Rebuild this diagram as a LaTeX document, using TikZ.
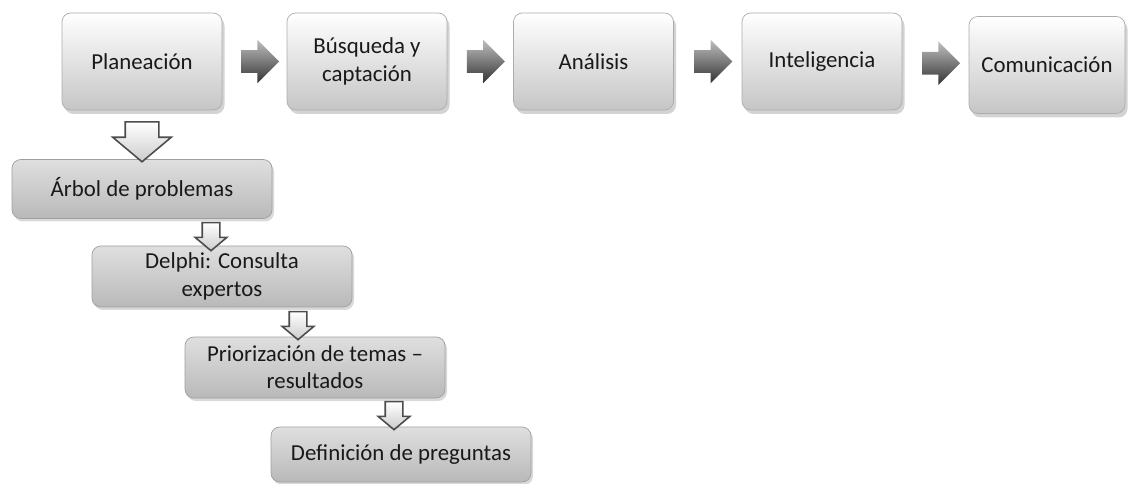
\documentclass[tikz,border=0pt]{standalone}
\usepackage{fontspec}
\setmainfont{Carlito}
\usepackage{tikz}
\usetikzlibrary{shapes.arrows,shadows,calc}

\begin{document}
\begin{tikzpicture}[
  paso/.style={rectangle, rounded corners=5pt, draw=gray!65, top color=white, bottom color=gray!45,
    minimum width=3.2cm, minimum height=1.94cm, align=center, text=black!90,
    font=\fontsize{13}{15.5}\selectfont,
    drop shadow={opacity=0.35, shadow xshift=0.05cm, shadow yshift=-0.08cm}},
  etapa/.style={rectangle, rounded corners=5pt, draw=gray!75, top color=gray!25, bottom color=gray!55,
    minimum width=5.2cm, minimum height=1.18cm, align=center, text=black!90,
    font=\fontsize{13}{15.5}\selectfont,
    drop shadow={opacity=0.3, shadow xshift=0.04cm, shadow yshift=-0.06cm}},
  avance/.style={single arrow, draw=none, top color=gray!50, bottom color=black!80,
    inner xsep=0pt, inner ysep=0.22cm, minimum height=0.76cm, single arrow head extend=0.21cm},
  baja/.style={single arrow, rotate=-90, draw=black!70, line width=0.9pt, top color=white, bottom color=gray!40,
    inner xsep=0pt, single arrow tip angle=100},
  bajagrande/.style={baja, inner ysep=0.32cm, minimum height=0.8cm, single arrow head extend=0.25cm},
  bajachica/.style={baja, inner ysep=0.16cm, minimum height=0.56cm, single arrow head extend=0.14cm}
]
\useasboundingbox (0,0) rectangle (22.58,-9.68);

\node[paso] (plan) at (2.84,-1.23) {Planeación};
\node[paso] (busq) at (7.34,-1.23) {Búsqueda y\\captación};
\node[paso] (anal) at (11.87,-1.23) {Análisis};
\node[paso] (intel) at (16.44,-1.23) {Inteligencia};
\node[paso, minimum width=3.12cm] (comu) at (20.94,-1.30) {Comunicación};

\node[avance] (f1) at ($(plan.east)!0.5!(busq.west)$) {};
\node[avance] (f2) at ($(busq.east)!0.5!(anal.west)$) {};
\node[avance] (f3) at ($(anal.east)!0.5!(intel.west)$) {};
\node[avance] (f4) at ($(intel.east)!0.5!(comu.west)$) {};

\node[etapa] (arbol) at (2.84,-3.78) {Árbol de problemas};
\node[etapa, minimum height=1.22cm] (delphi) at (4.44,-5.53) {Delphi: Consulta\\expertos};
\node[etapa, minimum height=1.22cm] (prior) at (6.3,-7.35) {Priorización de temas –\\resultados};
\node[etapa, minimum height=1.1cm] (defin) at (8.02,-9.09) {Definición de preguntas};

\node[bajagrande] (b0) at ($(plan.south)!0.5!(arbol.north)$) {};
\node[bajachica] (b1) at (4.22,-4.66) {};
\node[bajachica] (b2) at (5.96,-6.44) {};
\node[bajachica] (b3) at (7.88,-8.24) {};
\end{tikzpicture}
\end{document}
